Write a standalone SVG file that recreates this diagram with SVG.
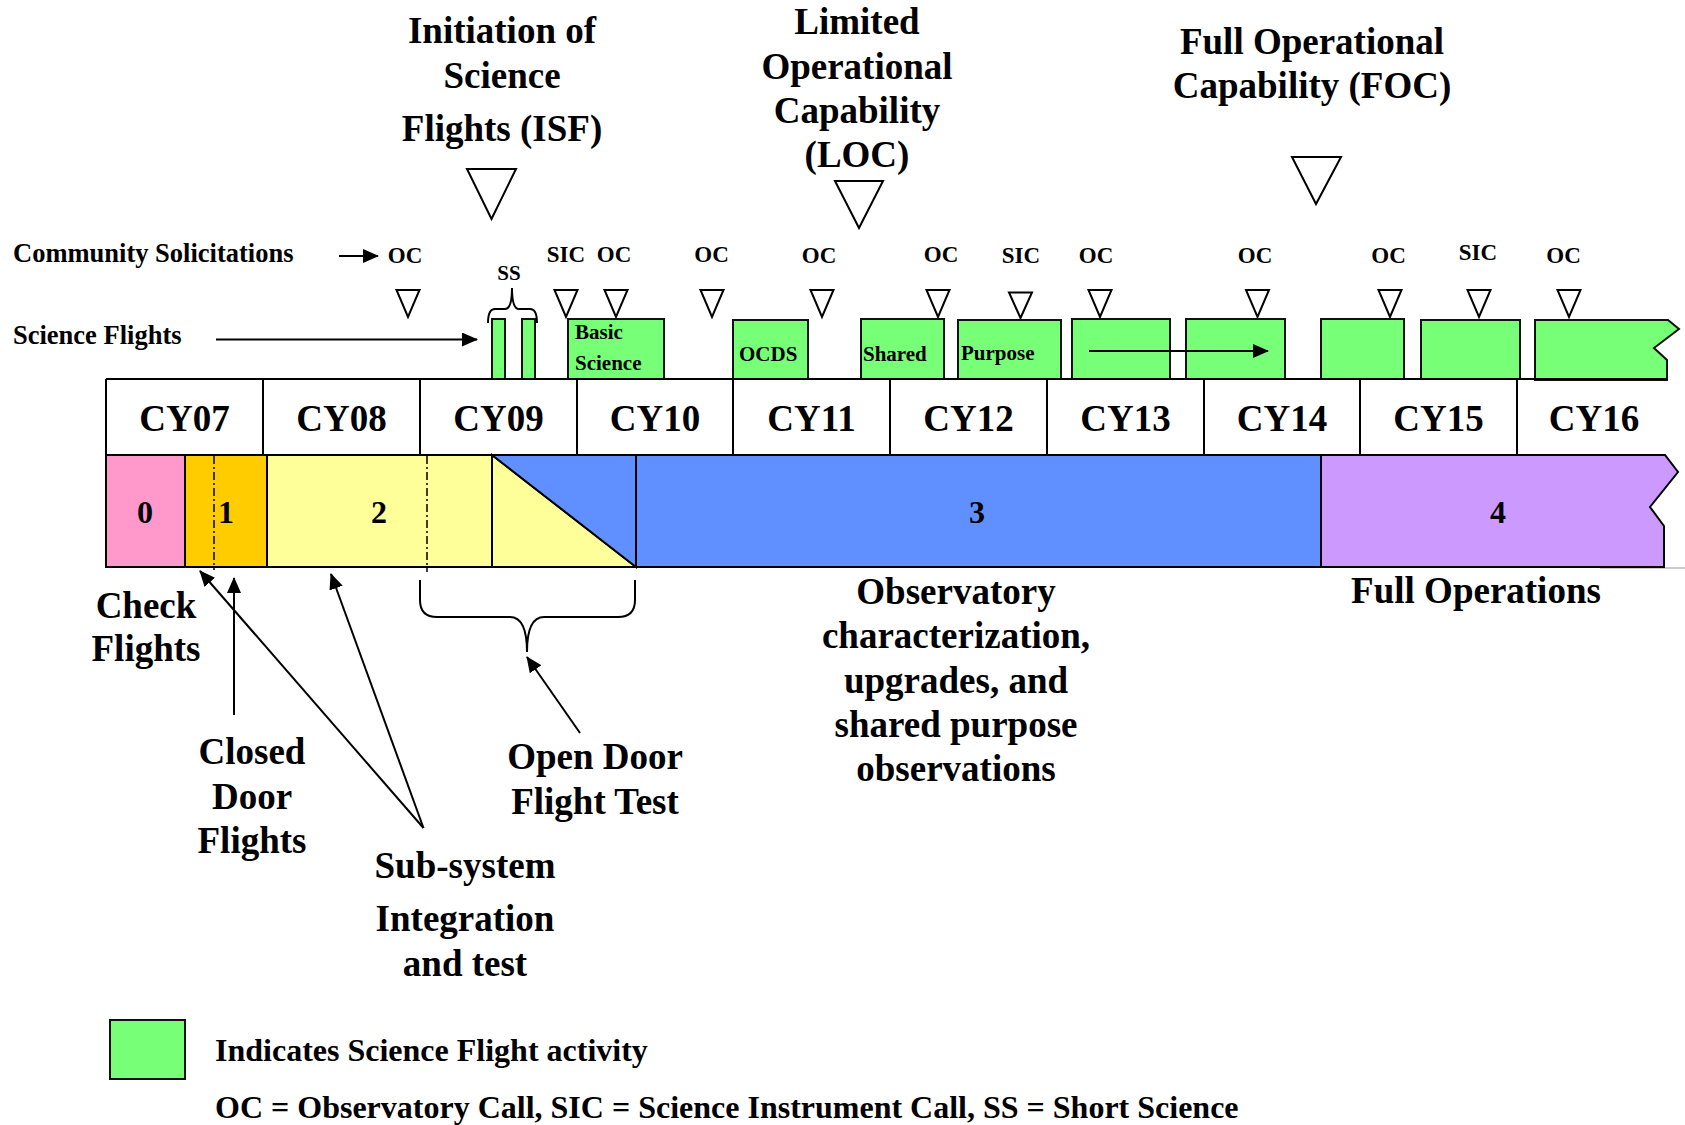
<svg xmlns="http://www.w3.org/2000/svg" width="1685" height="1125" viewBox="0 0 1685 1125">
<defs>
<style>
text{font-family:"Liberation Serif","Times New Roman",serif;font-weight:bold;fill:#000}
.big{font-size:37px;text-anchor:middle}
.yr{font-size:37px;text-anchor:middle}
.ph{font-size:32px;text-anchor:middle}
.call{font-size:23px;text-anchor:middle}
.row{font-size:26.5px}
.inb{font-size:21px}
.leg{font-size:32px}
.green{fill:#77FF77;stroke:#111;stroke-width:2}
.tri{fill:#fff;stroke:#000;stroke-width:2;stroke-linejoin:miter}
.ln{stroke:#000;stroke-width:2;fill:none}
.bar{stroke:#000;stroke-width:2}
.dd{stroke:#000;stroke-width:1.5;stroke-dasharray:8 3 2 3;fill:none}
</style>
<marker id="ah" viewBox="0 0 16 14" refX="15" refY="7" markerWidth="16" markerHeight="14" markerUnits="userSpaceOnUse" orient="auto">
<path d="M0,0 L16,7 L0,14 Z" fill="#000"/>
</marker>
</defs>
<rect width="1685" height="1125" fill="#fff"/>

<g id="milestones">
<g id="isf">
<text class="big" x="502" y="43">Initiation of</text>
<text class="big" x="502" y="88">Science</text>
<text class="big" x="502" y="141">Flights (ISF)</text>
<polygon class="tri" points="467,169 516,169 491.5,219"/>
</g>
<g id="loc">
<text class="big" x="857" y="34">Limited</text>
<text class="big" x="857" y="79">Operational</text>
<text class="big" x="857" y="123">Capability</text>
<text class="big" x="857" y="167">(LOC)</text>
<polygon class="tri" points="835,181 883,181 859,228"/>
</g>
<g id="foc">
<text class="big" x="1312" y="54">Full Operational</text>
<text class="big" x="1312" y="98">Capability (FOC)</text>
<polygon class="tri" points="1292,157 1341,157 1316,204"/>
</g>
</g>

<g id="solicitations">
<text class="row" x="13" y="262">Community Solicitations</text>
<g id="calls">
<text class="call" x="405" y="263">OC</text>
<text class="call" x="566" y="262">SIC</text>
<text class="call" x="614" y="262">OC</text>
<text class="call" x="711.5" y="262">OC</text>
<text class="call" x="819" y="263">OC</text>
<text class="call" x="941" y="262">OC</text>
<text class="call" x="1021" y="263">SIC</text>
<text class="call" x="1096" y="263">OC</text>
<text class="call" x="1255" y="263">OC</text>
<text class="call" x="1388.5" y="263">OC</text>
<text class="call" x="1478" y="260">SIC</text>
<text class="call" x="1563.5" y="263">OC</text>
<text style="font-size:21px;text-anchor:middle" x="509" y="280">SS</text>
</g>
<g id="call-markers">
<polygon class="tri" points="396.5,290 419.5,290 408,317"/>
<polygon class="tri" points="554.5,290 577.5,290 566,317"/>
<polygon class="tri" points="604.5,290 627.5,290 616,317"/>
<polygon class="tri" points="700.5,290 723.5,290 712,317"/>
<polygon class="tri" points="810.5,290 833.5,290 822,317"/>
<polygon class="tri" points="926.5,290 949.5,290 938,317"/>
<polygon class="tri" points="1009,292.5 1032,292.5 1020.5,318"/>
<polygon class="tri" points="1088.5,290 1111.5,290 1100,317"/>
<polygon class="tri" points="1246,290 1269,290 1257.5,317"/>
<polygon class="tri" points="1378.5,290 1401.5,290 1390,317"/>
<polygon class="tri" points="1467.5,290 1490.5,290 1479,317"/>
<polygon class="tri" points="1557.5,290 1580.5,290 1569,317"/>
</g>
</g>

<g id="science-flights">
<text class="row" x="13" y="344">Science Flights</text>
<rect class="green" x="492" y="319" width="13" height="60"/>
<rect class="green" x="522" y="319" width="13" height="60"/>
<g id="basic-science">
<rect class="green" x="568" y="319" width="96" height="60"/>
<text class="inb" x="575" y="339">Basic</text>
<text class="inb" x="575" y="370">Science</text>
</g>
<g id="ocds">
<rect class="green" x="733" y="320" width="75" height="59"/>
<text class="inb" x="739" y="361">OCDS</text>
</g>
<g id="shared">
<rect class="green" x="861" y="319" width="83" height="60"/>
<text class="inb" x="863" y="361">Shared</text>
</g>
<g id="purpose">
<rect class="green" x="958" y="320" width="103" height="59"/>
<text class="inb" x="961" y="360">Purpose</text>
</g>
<rect class="green" x="1072" y="319" width="98" height="60"/>
<rect class="green" x="1186" y="319" width="99" height="60"/>
<rect class="green" x="1321" y="319" width="83" height="60"/>
<rect class="green" x="1421" y="320" width="99" height="59"/>
<polygon class="green" points="1535,320 1668,320 1679,329 1654,348 1667,360 1667,380 1535,380"/>
</g>

<g id="years">
<line class="ln" x1="106" y1="379" x2="1668" y2="379"/>
<line class="ln" x1="106" y1="379" x2="106" y2="455"/>
<line class="ln" x1="263" y1="379" x2="263" y2="455"/>
<line class="ln" x1="420" y1="379" x2="420" y2="455"/>
<line class="ln" x1="577" y1="379" x2="577" y2="455"/>
<line class="ln" x1="733" y1="379" x2="733" y2="455"/>
<line class="ln" x1="890" y1="379" x2="890" y2="455"/>
<line class="ln" x1="1047" y1="379" x2="1047" y2="455"/>
<line class="ln" x1="1204" y1="379" x2="1204" y2="455"/>
<line class="ln" x1="1360" y1="379" x2="1360" y2="455"/>
<line class="ln" x1="1517" y1="379" x2="1517" y2="455"/>
<text class="yr" x="184.5" y="431">CY07</text>
<text class="yr" x="341.5" y="431">CY08</text>
<text class="yr" x="498.5" y="431">CY09</text>
<text class="yr" x="655" y="431">CY10</text>
<text class="yr" x="811.5" y="431">CY11</text>
<text class="yr" x="968.5" y="431">CY12</text>
<text class="yr" x="1125.5" y="431">CY13</text>
<text class="yr" x="1282" y="431">CY14</text>
<text class="yr" x="1438.5" y="431">CY15</text>
<text class="yr" x="1594" y="431">CY16</text>
</g>

<g id="phases">
<line x1="1600" y1="568" x2="1685" y2="568" stroke="#999" stroke-width="1"/>
<g id="phase0"><rect class="bar" x="106" y="455" width="79" height="112" fill="#FF99CC"/><text class="ph" x="145" y="523">0</text></g>
<g id="phase1"><rect class="bar" x="185" y="455" width="82" height="112" fill="#FFCC00"/><line class="dd" x1="214" y1="456" x2="214" y2="570"/><text class="ph" x="226" y="523">1</text></g>
<g id="phase2"><rect class="bar" x="267" y="455" width="225" height="112" fill="#FFFF99"/><polygon class="bar" points="492,455 492,567 636,567" fill="#FFFF99"/><polygon class="bar" points="492,455 636,455 636,567" fill="#608FFF"/><line class="dd" x1="427" y1="456" x2="427" y2="572"/><text class="ph" x="379" y="523">2</text></g>
<g id="phase3"><rect class="bar" x="636" y="455" width="685" height="112" fill="#608FFF"/><text class="ph" x="977" y="523">3</text></g>
<g id="phase4"><polygon class="bar" points="1321,455 1665,455 1678,472 1650,507 1664,526 1664,567 1321,567" fill="#CC99FF"/><text class="ph" x="1498" y="523">4</text></g>
</g>

<g id="labels">
<g id="check-flights"><text class="big" x="146" y="618">Check</text><text class="big" x="146" y="661">Flights</text></g>
<g id="closed-door"><text class="big" x="252" y="764">Closed</text><text class="big" x="252" y="809">Door</text><text class="big" x="252" y="853">Flights</text></g>
<g id="open-door"><text class="big" x="595" y="769">Open Door</text><text class="big" x="595" y="814">Flight Test</text></g>
<g id="subsystem"><text class="big" x="465" y="878">Sub-system</text><text class="big" x="465" y="931">Integration</text><text class="big" x="465" y="976">and test</text></g>
<g id="observatory"><text class="big" x="956" y="604">Observatory</text><text class="big" x="956" y="648">characterization,</text><text class="big" x="956" y="693">upgrades, and</text><text class="big" x="956" y="737">shared purpose</text><text class="big" x="956" y="781">observations</text></g>
<g id="full-ops"><text class="big" x="1476" y="603">Full Operations</text></g>
</g>

<g id="connectors">
<line class="ln" x1="339" y1="256" x2="378" y2="256" marker-end="url(#ah)"/>
<line class="ln" x1="216" y1="339.5" x2="477" y2="339.5" marker-end="url(#ah)"/>
<line class="ln" x1="1089" y1="351" x2="1268" y2="351" marker-end="url(#ah)"/>
<path class="ln" d="M488,323 Q488,309 495,309 L505,309 Q512,309 512,288 Q512,309 519,309 L530,309 Q537,309 537,323"/>
<path class="ln" d="M420,580 L420,600 Q420,617 437,617 L510,617 Q527,617 527,652 Q527,617 544,617 L618,617 Q635,617 635,600 L635,580"/>
<line class="ln" x1="234" y1="715" x2="234" y2="578" marker-end="url(#ah)"/>
<line class="ln" x1="423.5" y1="828" x2="200" y2="571" marker-end="url(#ah)"/>
<line class="ln" x1="423.5" y1="828" x2="331" y2="574" marker-end="url(#ah)"/>
<line class="ln" x1="580" y1="733" x2="527" y2="657" marker-end="url(#ah)"/>
</g>

<g id="legend">
<rect class="green" x="110" y="1020" width="75" height="59"/>
<text class="leg" x="215" y="1061">Indicates Science Flight activity</text>
<text class="leg" x="215" y="1118">OC = Observatory Call, SIC = Science Instrument Call, SS = Short Science</text>
</g>
</svg>
